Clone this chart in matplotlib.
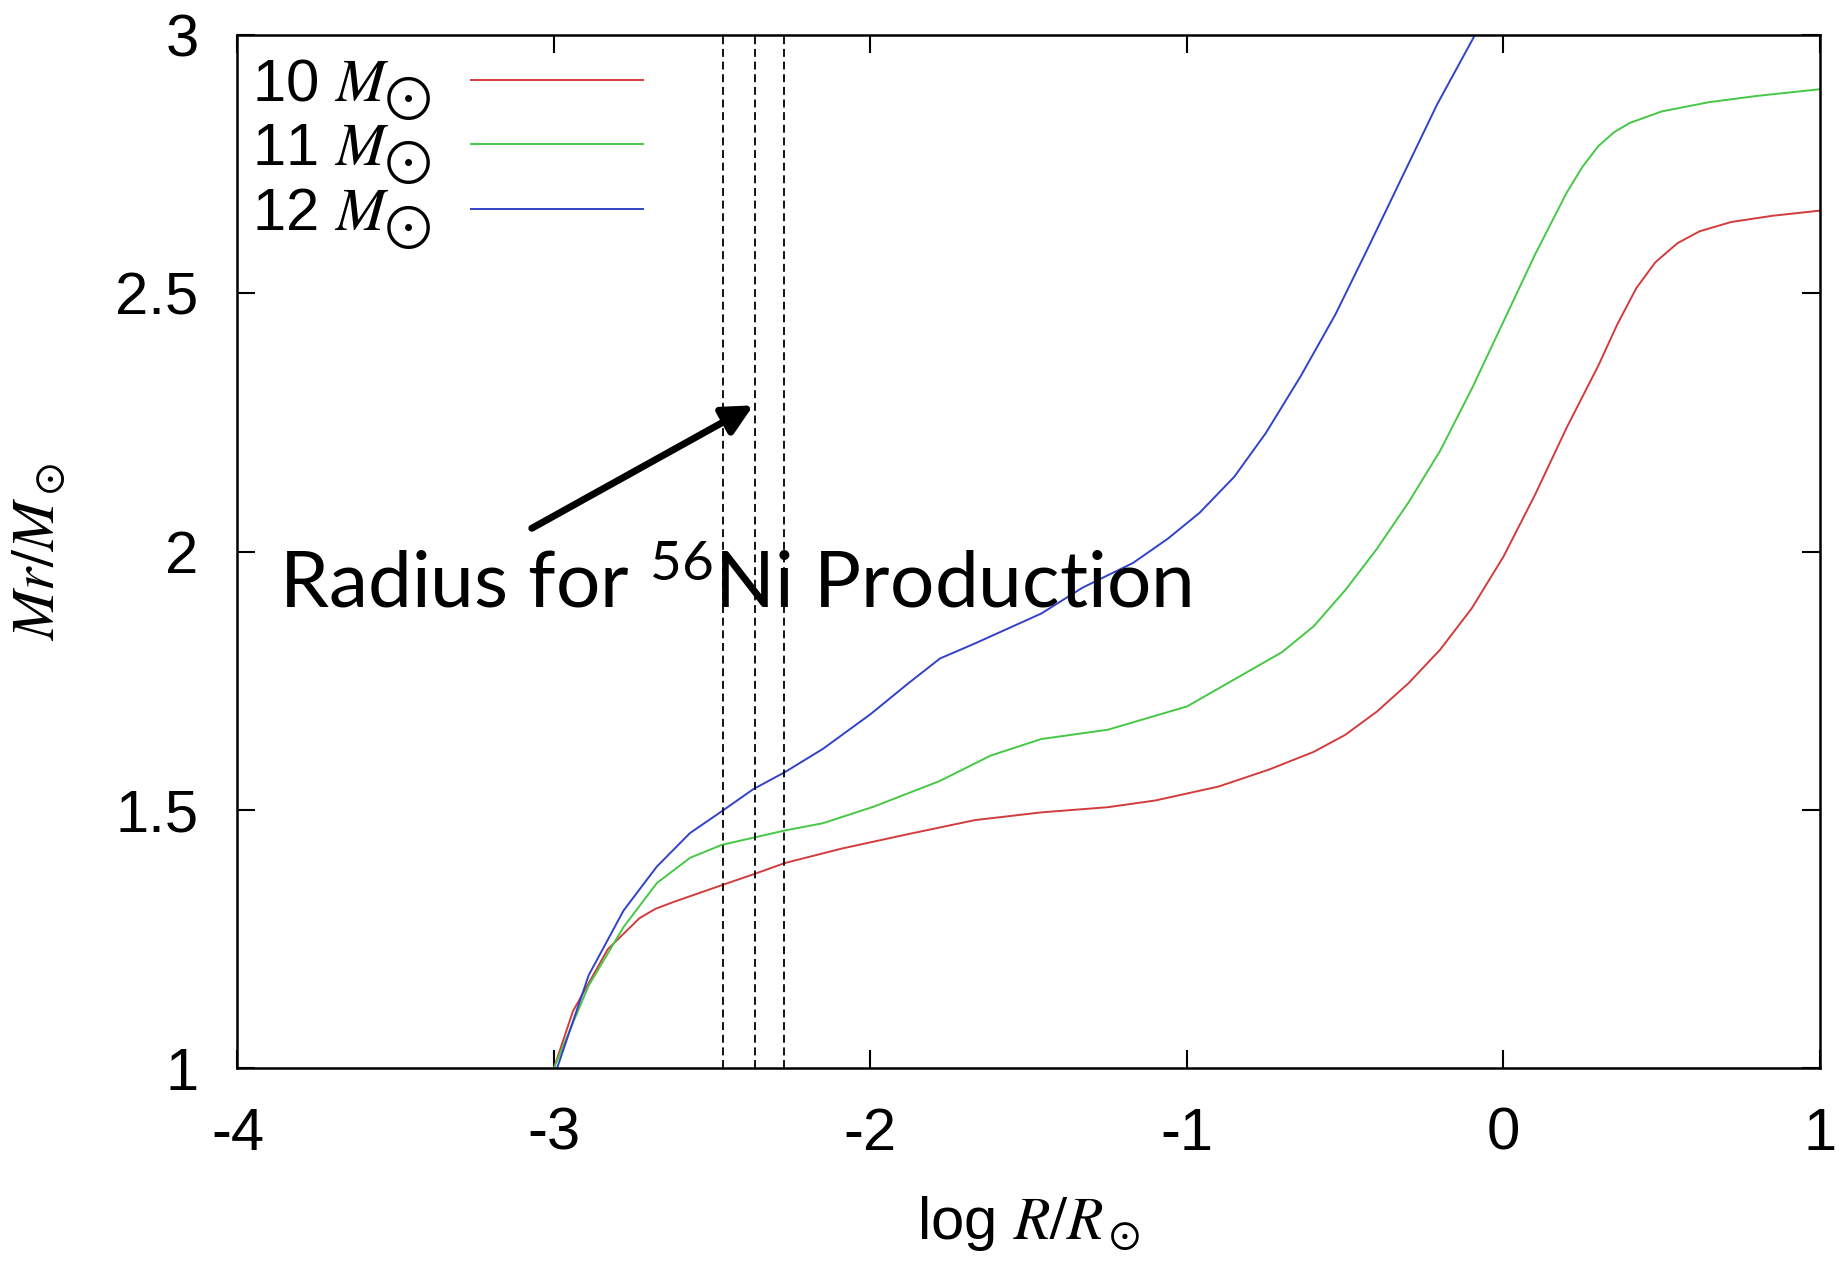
import matplotlib
matplotlib.use("Agg")
import matplotlib.pyplot as plt
import numpy as np

# ---- data ----
x_10 = [-3.00, -2.94, -2.83, -2.73, -2.68, -2.62, -2.47, -2.37, -2.27, -2.09, -1.88, -1.67,
        -1.46, -1.25, -1.10, -0.90, -0.74, -0.60, -0.50, -0.40, -0.30, -0.20, -0.10, 0.00,
        0.10, 0.20, 0.30, 0.36, 0.42, 0.48, 0.55, 0.62, 0.72, 0.85, 1.00]
y_10 = [1.00, 1.11, 1.23, 1.290, 1.308, 1.322, 1.354, 1.375, 1.397, 1.425, 1.453, 1.480,
        1.495, 1.505, 1.518, 1.545, 1.578, 1.612, 1.645, 1.69, 1.745, 1.81, 1.89, 1.99,
        2.11, 2.24, 2.36, 2.44, 2.51, 2.56, 2.597, 2.62, 2.638, 2.65, 2.66]

x_11 = [-3.00, -2.89, -2.78, -2.675, -2.57, -2.47, -2.37, -2.27, -2.15, -1.99, -1.78, -1.62,
        -1.46, -1.25, -1.00, -0.80, -0.70, -0.60, -0.50, -0.40, -0.30, -0.20, -0.10, 0.00,
        0.10, 0.20, 0.25, 0.30, 0.35, 0.40, 0.50, 0.65, 0.80, 1.00]
y_11 = [1.00, 1.16, 1.273, 1.358, 1.407, 1.432, 1.446, 1.46, 1.474, 1.506, 1.556, 1.605,
        1.637, 1.655, 1.70, 1.77, 1.805, 1.855, 1.925, 2.005, 2.095, 2.195, 2.315, 2.445,
        2.575, 2.695, 2.745, 2.785, 2.812, 2.83, 2.852, 2.87, 2.882, 2.895]

x_12 = [-2.99, -2.89, -2.78, -2.675, -2.57, -2.47, -2.37, -2.27, -2.15, -2.00, -1.88, -1.78,
        -1.67, -1.46, -1.33, -1.17, -1.06, -0.96, -0.85, -0.75, -0.64, -0.53, -0.43, -0.32,
        -0.21, -0.09]
y_12 = [1.00, 1.18, 1.305, 1.39, 1.455, 1.497, 1.54, 1.573, 1.618, 1.685, 1.745, 1.793,
        1.822, 1.88, 1.93, 1.978, 2.025, 2.075, 2.145, 2.23, 2.34, 2.46, 2.585, 2.725,
        2.865, 3.00]

labels = [r"10 $M_{\bigodot}$", r"11 $M_{\bigodot}$", r"12 $M_{\bigodot}$"]
ni_radii = [-2.467, -2.366, -2.272]
x_ticks = [-4, -3, -2, -1, 0, 1]
y_ticks = [1, 1.5, 2, 2.5, 3]
annot_text = r"Radius for $\mathregular{^{56}}$Ni Production"

# ---- style ----
plt.rcParams['font.family'] = ['Liberation Sans', 'DejaVu Sans']
plt.rcParams['mathtext.fontset'] = 'stix'

fig = plt.figure(figsize=(18.45, 12.73), dpi=100)
ax = fig.add_axes([0.1287, 0.161, 0.8577, 0.8115])

colors = ['#d23c3c', '#46c846', '#3242c8']
for xs, ys, c, lab in zip([x_10, x_11, x_12], [y_10, y_11, y_12], colors, labels):
    ax.plot(xs, ys, color=c, lw=1.4, label=lab, solid_joinstyle='round')

for xv in ni_radii:
    ax.axvline(xv, color='black', lw=1.3, linestyle=(0, (4.4, 2.6)))

ax.set_xlim(-4, 1)
ax.set_ylim(1, 3)
ax.set_xticks(x_ticks)
ax.set_yticks(y_ticks)
ax.set_xticklabels([str(t) for t in x_ticks])
ax.set_yticklabels(['1', '1.5', '2', '2.5', '3'])
ax.tick_params(direction='in', length=13, width=1.5, top=True, right=True,
               labelsize=43, pad=28)
for sp in ax.spines.values():
    sp.set_linewidth(1.8)

ax.set_xlabel(r"log $R/R_\odot$", fontsize=43)
ax.set_ylabel(r"$Mr/M_\odot$", fontsize=43)
ax.xaxis.set_label_coords(0.5, -0.122)
ax.yaxis.set_label_coords(-0.108, 0.5)

leg = ax.legend(loc='upper left', bbox_to_anchor=(0.0095, 0.979), markerfirst=False,
                frameon=False, fontsize=43, handlelength=2.88, handletextpad=0.65,
                labelspacing=0.0, borderaxespad=0.0, borderpad=0.0)

ax.text(-3.869, 1.891, annot_text, family='Lato', fontsize=56.5, va='baseline', ha='left')
ax.annotate('', xy=(-2.37, 2.283), xytext=(-3.07, 2.045),
            arrowprops=dict(arrowstyle='-|>', lw=5, color='black', mutation_scale=45,
                            shrinkA=0, shrinkB=0))

fig.savefig('out.png', dpi=100)
